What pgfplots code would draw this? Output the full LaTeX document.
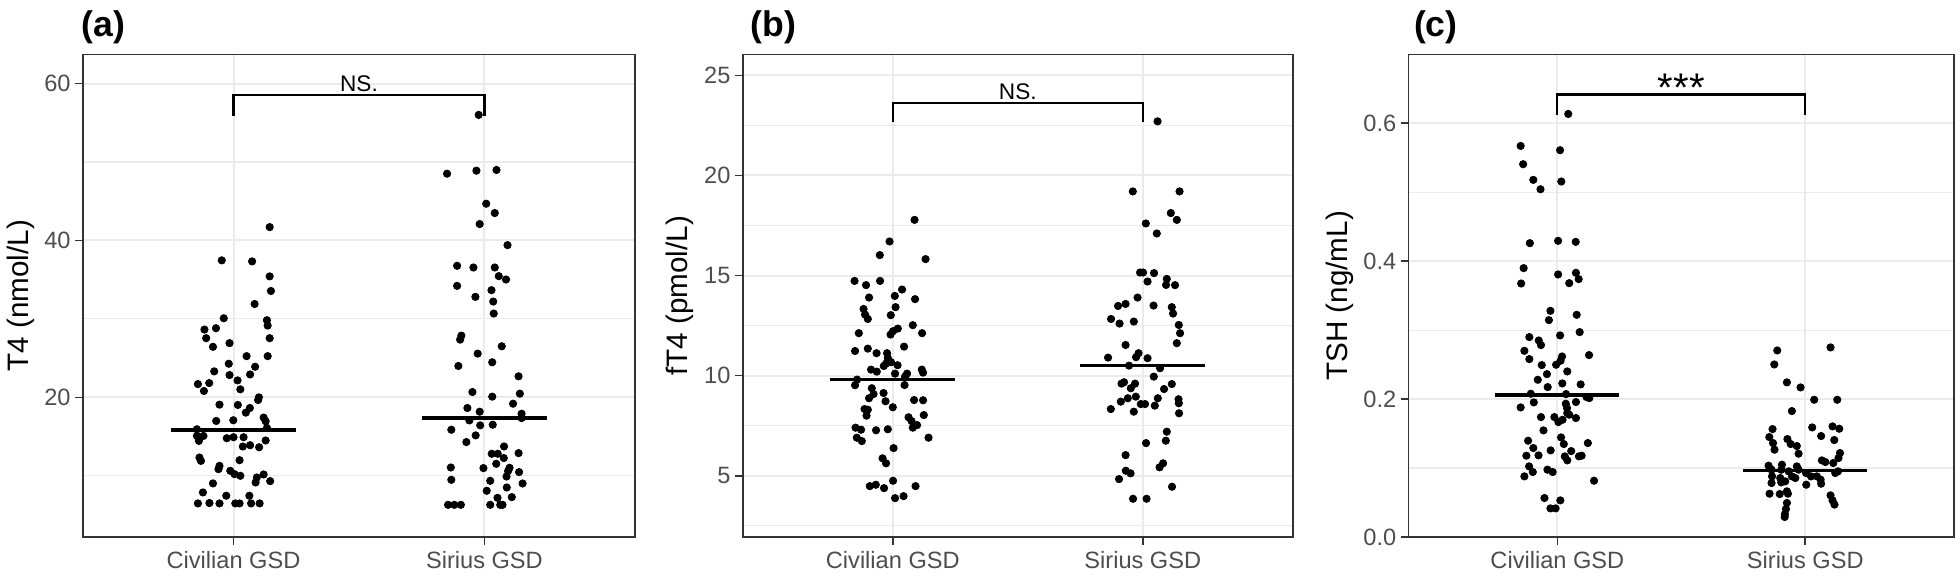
\documentclass[border=0pt]{standalone}
\usepackage{pgfplots}
\usepackage{pgfplotstable}
\pgfplotsset{compat=1.18}
\usepackage{fontspec}
\setmainfont{Liberation Sans}
\definecolor{gg92}{HTML}{EBEBEB}
\definecolor{gg30}{HTML}{4D4D4D}
\definecolor{gg20}{HTML}{333333}

\pgfplotstableread{
x y
1.144 41.7
0.953 37.46
1.074 37.33
1.144 35.42
1.149 33.56
1.084 31.9
0.961 30.08
0.884 28.64
0.930 28.81
1.133 29.83
1.136 29.15
0.891 27.54
1.144 27.54
0.918 26.44
0.984 26.91
1.136 25.25
1.052 25.25
0.981 24.28
1.086 23.9
1.066 22.92
0.923 23.31
0.984 22.84
0.858 21.69
0.903 21.82
0.882 20.81
1.016 22.16
1.027 21.02
1.098 19.66
1.101 20.0
0.944 19.07
1.017 19.03
1.065 18.64
1.049 18.05
0.931 16.99
0.999 17.08
1.120 17.42
1.128 16.95
1.133 16.1
0.854 15.93
0.854 15.08
0.880 15.08
0.862 14.45
0.973 14.79
1.000 14.92
1.040 14.92
1.037 13.73
1.066 13.9
1.102 13.64
1.128 14.5
0.864 12.33
0.870 11.9
1.024 11.99
0.944 11.27
0.940 10.85
0.987 10.64
1.004 10.21
1.027 10.0
1.093 9.79
1.120 10.17
1.088 9.15
1.146 9.32
0.918 9.03
0.878 7.88
0.971 7.46
1.063 7.46
0.858 6.48
0.904 6.53
0.944 6.48
1.007 6.48
1.024 6.48
1.070 6.48
1.104 6.48
}\ACiv
\pgfplotstableread{
x y
1.977 56.0
1.851 48.51
1.968 48.89
2.048 48.98
2.007 44.68
2.041 43.49
1.981 42.09
2.092 39.4
1.891 36.77
1.956 36.55
2.041 36.55
2.057 35.45
2.086 35.02
1.891 34.21
2.028 33.66
1.964 32.81
2.035 32.21
2.037 30.68
1.908 27.87
1.903 27.36
1.973 25.57
2.069 26.51
1.896 24.0
2.031 24.47
2.136 22.68
1.952 20.68
2.141 20.47
2.031 20.09
2.114 19.19
1.932 18.64
1.981 18.17
2.148 17.91
2.148 17.36
1.940 17.06
1.983 16.43
2.033 16.51
1.868 15.87
1.965 15.15
1.928 14.3
2.078 13.74
2.029 12.81
2.053 12.81
2.136 12.89
2.047 11.53
2.077 12.26
1.866 11.06
1.996 10.98
2.100 11.02
2.094 10.6
2.088 9.91
2.138 10.47
1.868 9.49
2.023 9.36
2.152 9.02
2.089 8.51
2.009 8.09
2.109 7.28
2.052 7.19
1.855 6.3
1.880 6.3
1.906 6.3
2.023 6.3
2.063 6.3
2.072 6.3
}\ASir
\pgfplotstableread{
x y
1.087 17.78
0.987 16.7
0.948 16.02
1.131 15.82
0.847 14.73
0.893 14.52
0.949 14.73
1.037 14.3
1.008 13.98
0.905 13.9
1.089 13.82
1.011 13.42
0.883 13.33
0.889 13.05
0.900 12.83
0.992 13.02
1.080 12.52
1.020 12.35
1.001 12.22
0.991 12.05
1.117 12.12
0.864 12.12
1.045 11.45
0.849 11.23
0.900 11.35
0.935 11.12
0.977 11.12
0.980 10.88
0.973 10.6
0.993 10.67
1.019 10.52
0.913 10.3
0.936 10.2
0.964 10.48
1.009 10.1
1.057 10.1
1.116 10.3
1.121 10.15
1.049 9.95
0.857 9.8
0.849 9.52
1.047 9.53
0.916 9.37
0.923 9.08
0.905 8.87
0.963 9.13
0.971 8.72
1.085 8.78
1.121 8.77
1.000 8.42
0.887 8.33
0.900 8.3
0.895 8.0
1.124 8.03
1.063 7.92
1.075 7.73
1.080 7.4
1.097 7.53
0.851 7.4
0.873 7.3
0.933 7.27
0.980 7.32
0.856 6.9
0.876 6.73
1.143 6.9
1.003 6.38
0.959 5.87
0.973 5.62
1.001 4.75
0.908 4.48
0.932 4.55
0.965 4.38
1.091 4.48
1.009 3.88
1.043 3.98
}\BCiv
\pgfplotstableread{
x y
2.059 22.7
1.960 19.2
2.147 19.2
2.112 18.12
2.136 17.78
2.012 17.6
2.056 17.1
1.989 15.15
2.001 15.15
2.045 15.12
2.019 14.7
2.096 14.83
2.093 14.53
2.129 14.52
1.979 13.9
1.901 13.48
1.931 13.58
2.043 13.5
2.116 13.42
2.121 13.1
1.873 12.83
1.907 12.6
1.964 12.7
2.144 12.53
2.149 12.12
2.136 11.62
1.931 11.53
1.861 10.9
1.973 10.92
1.983 11.12
2.019 10.87
1.945 10.5
2.069 10.37
2.044 9.95
2.116 9.58
2.085 9.33
1.915 9.6
1.925 9.67
1.969 9.6
1.952 9.37
1.912 8.7
1.940 8.87
1.972 8.95
2.060 8.87
2.143 8.82
2.144 8.62
1.872 8.33
1.992 8.58
2.009 8.58
2.048 8.5
1.964 8.2
2.145 8.12
2.096 7.2
2.092 6.75
2.013 6.63
1.931 6.03
2.081 5.62
2.067 5.42
1.932 5.25
1.951 5.12
1.905 4.83
2.117 4.45
1.961 3.85
2.015 3.85
}\BSir
\pgfplotstableread{
x y
1.044 0.6135
0.852 0.5671
1.011 0.5609
0.862 0.5406
0.903 0.5179
1.016 0.5155
0.932 0.5043
0.889 0.4261
1.003 0.4295
1.074 0.4280
0.864 0.3899
1.003 0.3807
1.075 0.3831
1.086 0.3739
1.048 0.3681
0.854 0.3676
0.972 0.3280
0.966 0.3145
1.078 0.3222
1.090 0.2971
1.011 0.2923
0.887 0.2899
0.925 0.2850
0.934 0.2783
0.867 0.2700
1.128 0.2638
1.019 0.2618
0.887 0.2580
1.013 0.2556
0.937 0.2493
0.995 0.2498
0.958 0.2362
1.040 0.2401
0.921 0.2280
0.961 0.2174
1.020 0.2227
1.094 0.2213
0.893 0.2077
1.035 0.2072
0.905 0.1952
0.852 0.1879
1.129 0.2014
1.118 0.2029
1.075 0.1957
1.034 0.1932
1.039 0.1870
1.040 0.1797
1.048 0.1773
0.934 0.1739
0.988 0.1739
1.021 0.1700
1.075 0.1725
1.004 0.1667
0.944 0.1546
1.015 0.1444
0.882 0.1396
1.026 0.1348
1.123 0.1362
0.903 0.1290
0.973 0.1256
1.056 0.1246
0.875 0.1179
0.924 0.1184
1.030 0.1169
1.087 0.1169
1.098 0.1179
1.040 0.1111
0.886 0.1024
0.901 0.0942
0.867 0.0879
0.960 0.0976
0.981 0.0942
1.148 0.0816
0.948 0.0565
1.012 0.0531
0.972 0.0415
0.993 0.0415
}\CCiv
\pgfplotstableread{
x y
1.887 0.2705
2.102 0.2749
1.875 0.2502
1.926 0.2242
1.981 0.2169
2.036 0.1990
2.129 0.1990
1.946 0.1826
1.868 0.1565
2.028 0.1589
2.110 0.1604
2.137 0.1570
1.855 0.1449
1.928 0.1420
2.064 0.1464
2.117 0.1406
1.870 0.1362
1.941 0.1348
1.966 0.1319
1.876 0.1266
1.973 0.1208
2.140 0.1217
2.134 0.1145
2.067 0.1111
2.081 0.1087
2.113 0.1072
1.852 0.1034
1.906 0.1048
1.966 0.1024
1.864 0.0976
1.903 0.0976
1.933 0.0952
1.973 0.0976
2.003 0.0928
2.023 0.0879
2.047 0.0879
2.121 0.0928
2.132 0.0952
1.866 0.0879
1.899 0.0855
1.946 0.0879
1.960 0.0855
1.919 0.0807
1.864 0.0783
1.903 0.0792
2.004 0.0758
2.064 0.0773
2.062 0.0831
1.856 0.0628
1.897 0.0623
1.926 0.0662
1.930 0.0628
2.102 0.0604
2.110 0.0531
2.118 0.0469
1.926 0.0493
1.922 0.0406
1.918 0.0333
1.917 0.0290
}\CSir

\pgfplotsset{
  gg/.style={
    scale only axis, height=241.25pt, anchor=south west,
    xmin=0.4, xmax=2.6, xtick={1,2}, xticklabels={Civilian GSD, Sirius GSD},
    tick align=outside, tick pos=left, major tick length=4pt, minor tick length=0pt,
    xmajorgrids, ymajorgrids, yminorgrids,
    major grid style={color=gg92, line width=1pt},
    minor grid style={color=gg92, line width=0.55pt},
    axis line style={gg20, line width=0.8pt},
    every tick/.style={gg20, line width=0.8pt},
    ticklabel style={font=\fontsize{11.8}{13}\selectfont, text=gg30},
    xticklabel style={inner sep=3pt},
    yticklabel style={inner sep=2pt},
    ylabel style={font=\fontsize{14.8}{16}\selectfont, anchor=center},
    clip=false,
  },
  pts/.style={only marks, mark=*, mark size=1.83pt, black},
  med/.style={black, line width=1.6pt},
  brk/.style={black, line width=1.1pt},
}

\begin{document}
\begin{tikzpicture}
\useasboundingbox (0,0) rectangle (980pt,288.5pt);

% ---------- (a)
\begin{axis}[gg, at={(41.5pt,20pt)}, width=276pt,
  ymin=2.2, ymax=63.7, ytick={20,40,60}, yticklabels={20,40,60},
  minor ytick={10,30,50},
  ylabel={T4 (nmol/L)}, ylabel style={at={(axis description cs:-0.113,0.5)}}]
\addplot[pts] table[x=x,y=y] {\ACiv};
\addplot[pts] table[x=x,y=y] {\ASir};
\addplot[med] coordinates {(0.75,15.85) (1.25,15.85)};
\addplot[med] coordinates {(1.75,17.36) (2.25,17.36)};
\addplot[brk] coordinates {(1,55.88) (1,58.55) (2,58.55) (2,55.88)};
\node[anchor=base, inner sep=0pt, yshift=1.8pt, font=\fontsize{11.3}{12}\selectfont] at (axis cs:1.5,58.55) {NS.};
\end{axis}

% ---------- (b)
\begin{axis}[gg, at={(371.4pt,20pt)}, width=275pt,
  ymin=1.94, ymax=26.04, ytick={5,10,15,20,25}, yticklabels={5,10,15,20,25},
  minor ytick={2.5,7.5,12.5,17.5,22.5},
  ylabel={fT4 (pmol/L)}, ylabel style={at={(axis description cs:-0.1153,0.5)}}]
\addplot[pts] table[x=x,y=y] {\BCiv};
\addplot[pts] table[x=x,y=y] {\BSir};
\addplot[med] coordinates {(0.75,9.8) (1.25,9.8)};
\addplot[med] coordinates {(1.75,10.5) (2.25,10.5)};
\addplot[brk] coordinates {(1,22.65) (1,23.62) (2,23.62) (2,22.65)};
\node[anchor=base, inner sep=0pt, yshift=1.8pt, font=\fontsize{11.3}{12}\selectfont] at (axis cs:1.5,23.62) {NS.};
\end{axis}

% ---------- (c)
\begin{axis}[gg, at={(704.3pt,20pt)}, width=272.7pt,
  ymin=0, ymax=0.6997, ytick={0,0.2,0.4,0.6}, yticklabels={0.0,0.2,0.4,0.6},
  minor ytick={0.1,0.3,0.5},
  ylabel={TSH (ng/mL)}, ylabel style={at={(axis description cs:-0.1258,0.5)}}]
\addplot[pts] table[x=x,y=y] {\CCiv};
\addplot[pts] table[x=x,y=y] {\CSir};
\addplot[med] coordinates {(0.75,0.206) (1.25,0.206)};
\addplot[med] coordinates {(1.75,0.096) (2.25,0.096)};
\addplot[brk] coordinates {(1,0.6123) (1,0.6416) (2,0.6416) (2,0.6123)};
\node[anchor=base, inner sep=0pt, yshift=-3.7pt, font=\fontsize{20}{22}\selectfont] at (axis cs:1.5,0.6416) {***};
\end{axis}

% tags
\node[anchor=base west, inner sep=0pt, font=\bfseries\fontsize{17.8}{19}\selectfont] at (40.5pt,270.25pt) {(a)};
\node[anchor=base west, inner sep=0pt, font=\bfseries\fontsize{17.8}{19}\selectfont] at (375pt,270.25pt) {(b)};
\node[anchor=base west, inner sep=0pt, font=\bfseries\fontsize{17.8}{19}\selectfont] at (706.8pt,270.25pt) {(c)};
\end{tikzpicture}
\end{document}
